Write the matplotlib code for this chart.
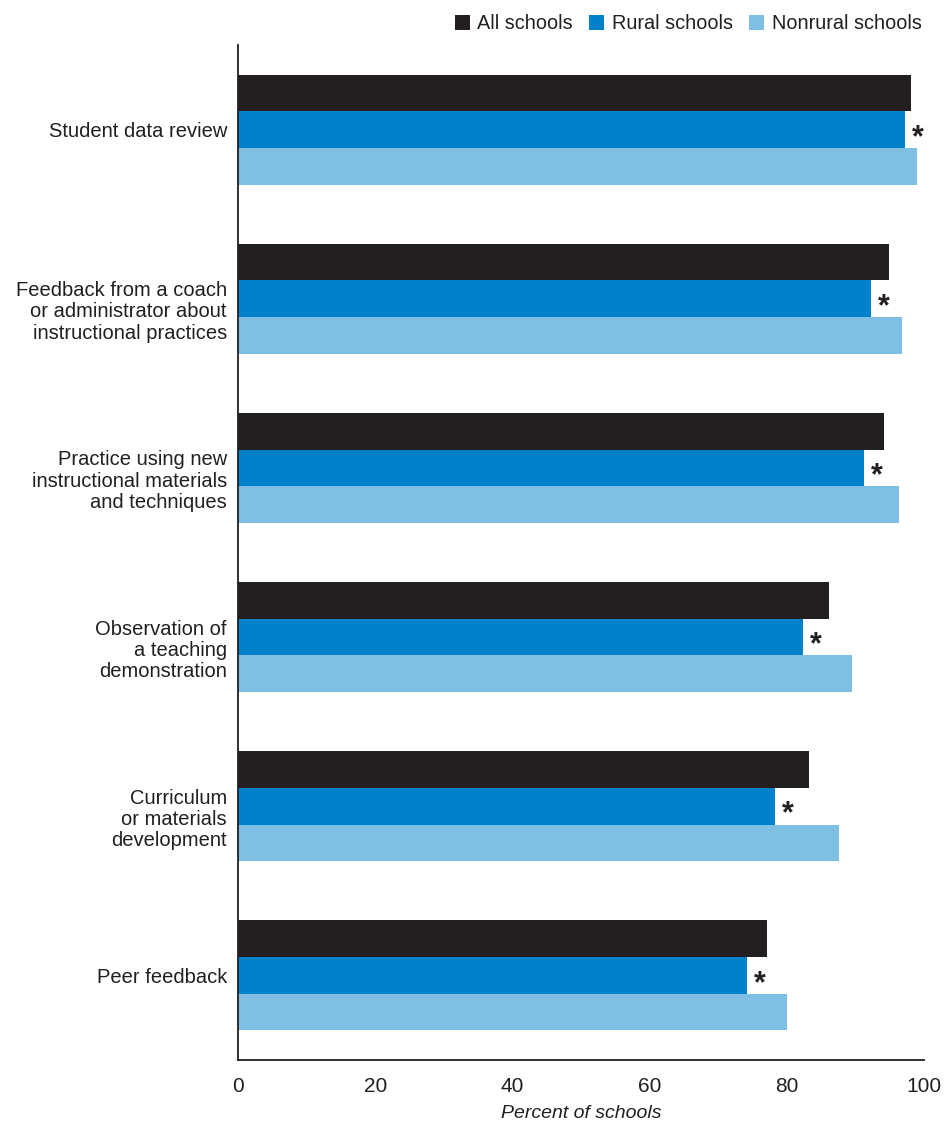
import matplotlib
matplotlib.use("Agg")
import matplotlib.pyplot as plt
import numpy as np

categories = ["Student data review",
              "Feedback from a coach\nor administrator about\ninstructional practices",
              "Practice using new\ninstructional materials\nand techniques",
              "Observation of\na teaching\ndemonstration",
              "Curriculum\nor materials\ndevelopment",
              "Peer feedback"]
all_schools = [98.1, 94.9, 94.2, 86.2, 83.2, 77.1]
rural_schools = [97.2, 92.3, 91.3, 82.3, 78.3, 74.2]
nonrural_schools = [99.0, 96.8, 96.3, 89.5, 87.6, 80.0]
significant = [True, True, True, True, True, True]
series_names = ["All schools", "Rural schools", "Nonrural schools"]
colors = ["#231f20", "#0081c9", "#80bfe4"]
xticks = [0, 20, 40, 60, 80, 100]

plt.rcParams['font.family'] = ['Liberation Sans', 'DejaVu Sans']

fig = plt.figure(figsize=(9.45, 11.28), dpi=100)
ax = fig.add_axes([238/945, 1 - 1060/1128, (924-238)/945, (1060-45)/1128])

y = np.arange(len(categories))
h = 0.217
series = [all_schools, rural_schools, nonrural_schools]
for i, (vals, c, name) in enumerate(zip(series, colors, series_names)):
    ax.barh(y + (i - 1) * h, vals, height=h, color=c, label=name, linewidth=0)

for yi, v, s in zip(y, rural_schools, significant):
    if s:
        ax.text(v + 1.0, yi + 0.05, "*", ha="left", va="center", fontsize=22,
                fontweight="bold", color="#231f20")

ax.set_xlim(0, 100)
ax.set_ylim(len(categories) - 0.5, -0.5)
ax.set_yticks(y)
ax.set_yticklabels([])
for yi, lab in zip(y, categories):
    dy = -9.5 if "\n" in lab else -1.5
    ax.annotate(lab, xy=(0, yi), xycoords=("axes fraction", "data"),
                xytext=(-8, dy), textcoords="offset points", ha="right", va="center",
                fontsize=14.5, color="#231f20", linespacing=1.15)
ax.set_xticks(xticks)
ax.set_xticklabels([str(t) for t in xticks], fontsize=15, color="#231f20")
ax.tick_params(axis="both", length=0)
ax.tick_params(axis="x", pad=12)
for sp in ["top", "right"]:
    ax.spines[sp].set_visible(False)
for sp in ["left", "bottom"]:
    ax.spines[sp].set_linewidth(1.3)
    ax.spines[sp].set_color("#231f20")
ax.set_xlabel("Percent of schools", fontsize=14, style="italic", color="#231f20",
              labelpad=7)

leg = fig.legend(loc="upper right", bbox_to_anchor=(0.994, 1.003), ncol=3, frameon=False,
                 fontsize=14.3, handlelength=0.75, handleheight=0.75, handletextpad=0.4,
                 columnspacing=0.8)
for t in leg.get_texts():
    t.set_color("#231f20")

fig.savefig("out.png", dpi=100)
